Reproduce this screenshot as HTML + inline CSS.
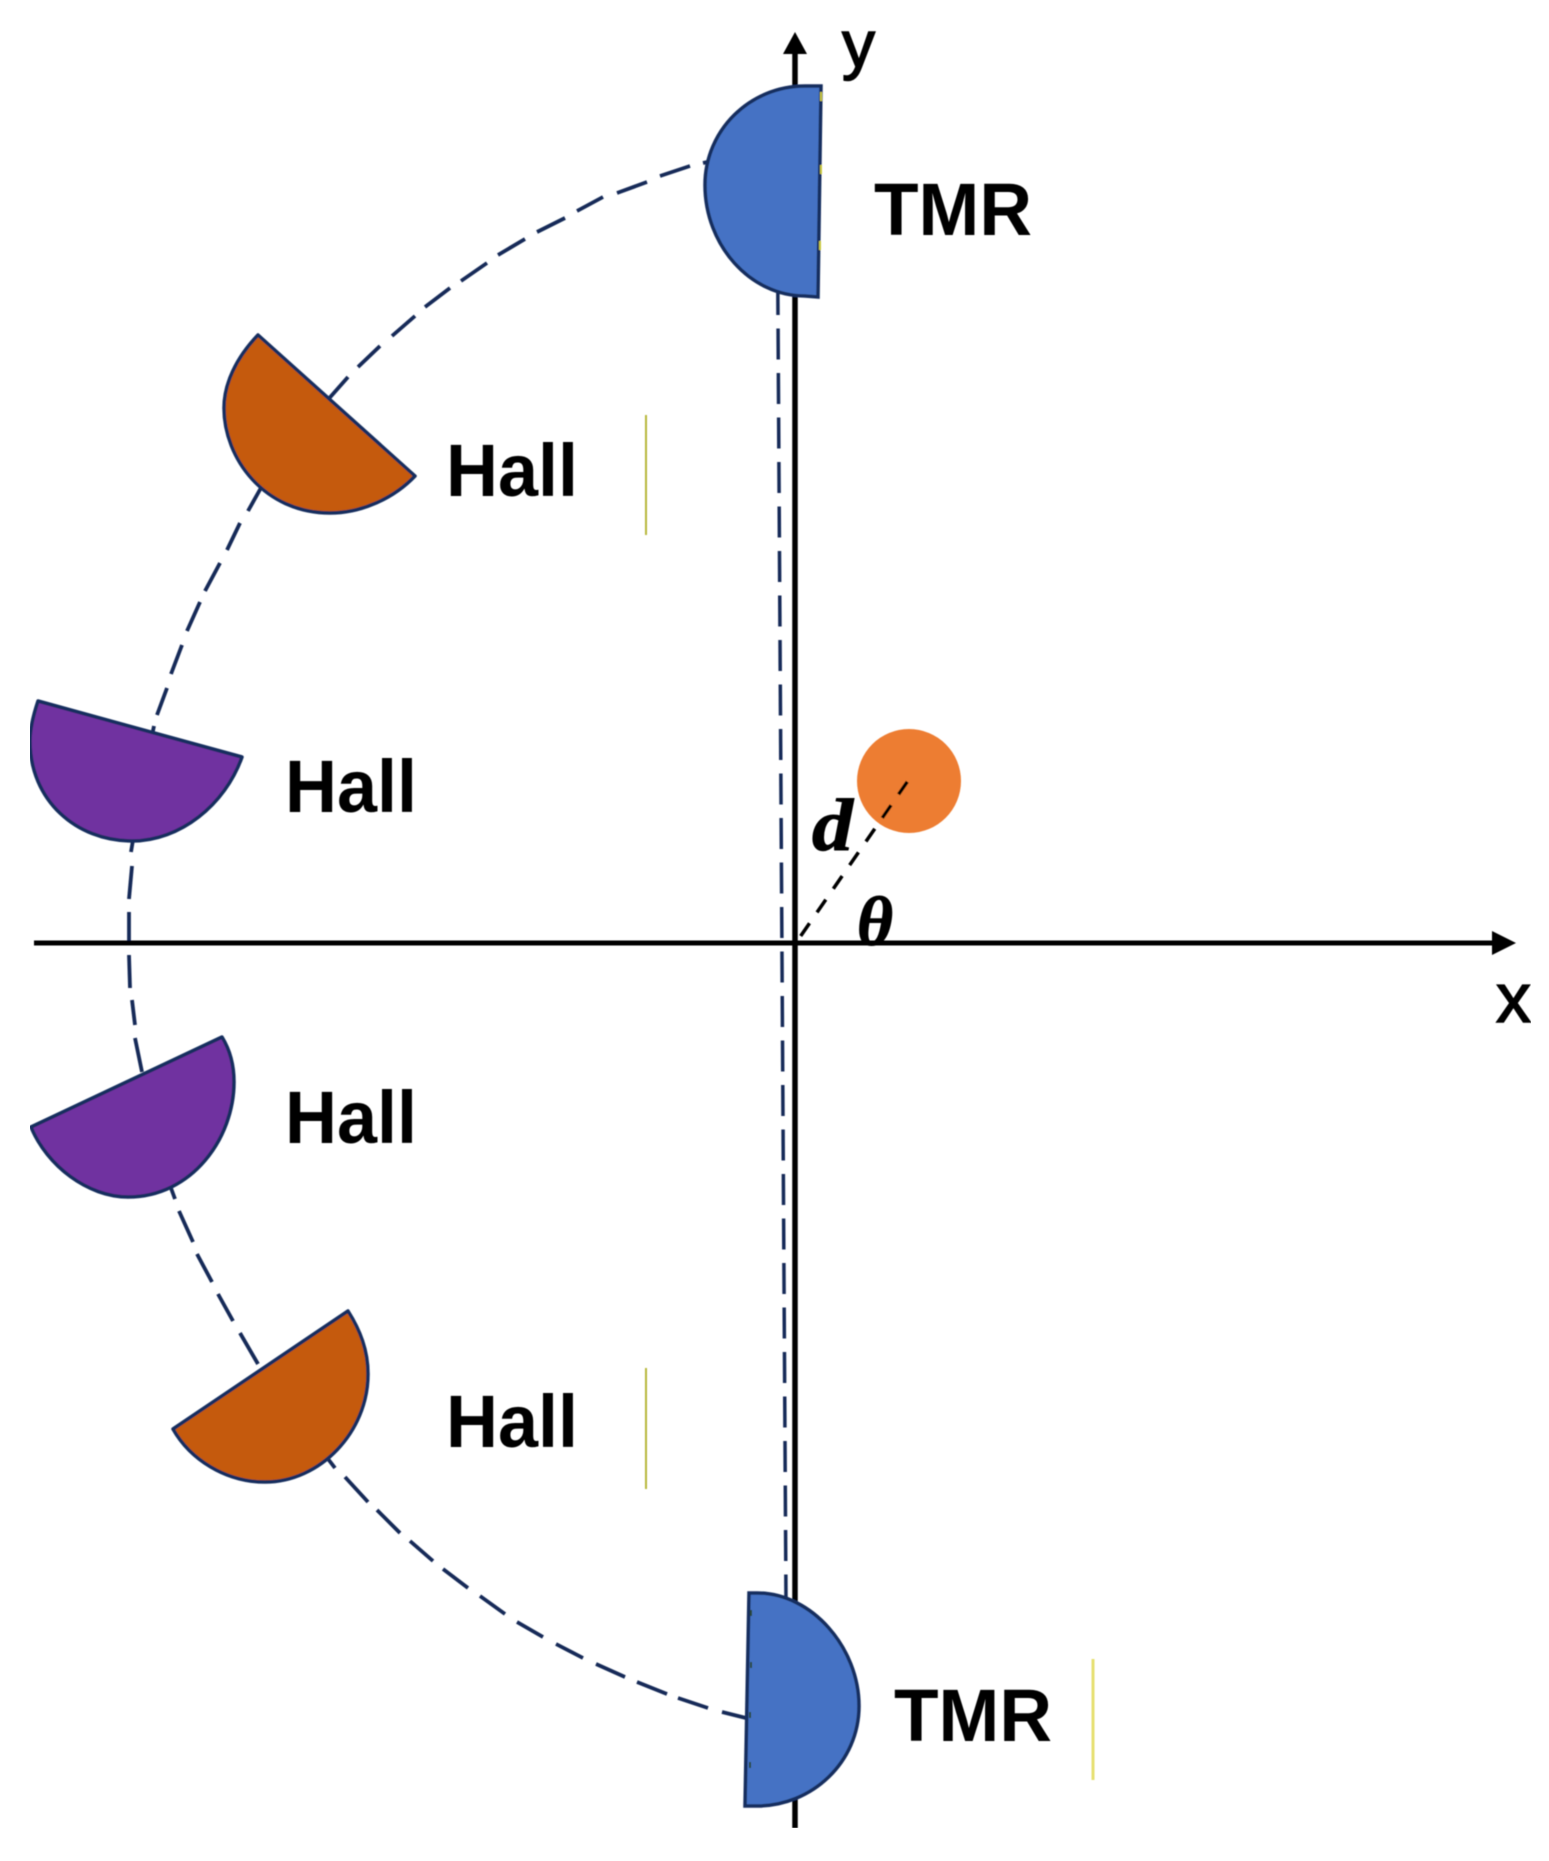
<!DOCTYPE html>
<html>
<head>
<meta charset="utf-8">
<style>
html,body{margin:0;padding:0;background:#fff;}
svg{display:block;}
text{fill:#000;}
.s{font-family:"Liberation Sans",sans-serif;font-weight:700;font-size:74px;}
.m{font-family:"Liberation Serif",serif;font-weight:700;font-style:italic;stroke:#000;stroke-width:1;}
</style>
</head>
<body>
<svg width="1549" height="1861" viewBox="0 0 1549 1861" xmlns="http://www.w3.org/2000/svg">
<defs><filter id="b" x="0" y="0" width="100%" height="100%"><feGaussianBlur stdDeviation="0.6"/></filter></defs>
<rect width="1549" height="1861" fill="#ffffff"/>
<g filter="url(#b)">

<path fill="none" stroke="#172c58" stroke-width="3.8" d="
M712 161 L703 163
M690 166 L660 176
M647 182 L617 193
M603 197 L577 211
M565 218 L537 232
M525 239 L498 255
M487 263 L461 281
M450 288 L425 307
M415 316 L392 336
M380 346 L358 367
M348 377 L325 403
M262 486 L248 511
M240 523 L227 550
M220 563 L205 591
M200 602 L187 631
M182 645 L171 674
M167 688 L157 715
M154 726 L151 740
M133 840 L131 852
M132 866 L129 899
M129 912 L129 945
M129 955 L130 988
M132 1000 L135 1025
M135 1038 L142 1072
M168 1180 L175 1199
M179 1211 L193 1242
M197 1254 L212 1282
M218 1294 L233 1321
M240 1333 L258 1364
M325 1455 L335 1468
M345 1477 L368 1502
M377 1510 L400 1533
M410 1541 L433 1561
M443 1569 L468 1588
M480 1596 L505 1614
M517 1622 L543 1637
M556 1644 L583 1658
M596 1664 L625 1677
M637 1682 L667 1694
M678 1698 L708 1708
M722 1712 L750 1719"/>
<path d="M777.8 284 L786 1600" fill="none" stroke="#172c58" stroke-width="3.5" stroke-dasharray="31 13.5"/>

<line x1="795" y1="50" x2="795" y2="1828" stroke="#000" stroke-width="5.5"/>
<polygon points="795,32 783,54 807,54" fill="#000"/>
<line x1="34" y1="943" x2="1495" y2="943" stroke="#000" stroke-width="5"/>
<polygon points="1516,943 1492,931 1492,955" fill="#000"/>

<circle cx="909" cy="781" r="52" fill="#ed7d31"/>
<line x1="800.7" y1="936" x2="907.3" y2="781.7" stroke="#000" stroke-width="3.5" stroke-dasharray="15.5 13.2"/>

<path d="M821 86 L805 86 C750 86 705 130 705 185 C705 245 750 296 805 296 L818 297 Z" fill="#4472c4" stroke="#172f5e" stroke-width="3.5"/>
<path d="M749 1593 L757 1593 C812 1593 859 1648 859 1706 C859 1762 812 1806 757 1806 L745 1806 Z" fill="#4472c4" stroke="#172f5e" stroke-width="3.5"/>

<path d="M258 335 C236 358 224 384 224 408 C224 458 264 513 330 513 C362 513 394 498 415 476 Z" fill="#c55a11" stroke="#172f5e" stroke-width="3.5" stroke-linejoin="round"/>
<path d="M38 701 C33 716 30 729 30 741 C30 800 76 841 132 841 C180 841 225 805 242 757 Z" fill="#7030a0" stroke="#172f5e" stroke-width="3.5" stroke-linejoin="round"/>
<path d="M222 1037 C230 1050 234 1065 234 1082 C234 1138 192 1197 128 1197 C88 1197 47 1166 31 1127 Z" fill="#7030a0" stroke="#172f5e" stroke-width="3.5" stroke-linejoin="round"/>
<path d="M348 1311 C360 1330 368 1350 368 1374 C368 1432 320 1482 265 1482 C225 1482 190 1459 173 1429 Z" fill="#c55a11" stroke="#172f5e" stroke-width="3.5" stroke-linejoin="round"/>

<g fill="#c8c83c">
<rect x="820" y="92" width="2" height="9"/>
<rect x="820" y="165" width="2" height="9"/>
<rect x="819" y="241" width="2" height="9"/>
</g>
<g fill="#2a4a30">
<rect x="750" y="1610" width="2" height="6"/>
<rect x="750" y="1662" width="2" height="6"/>
<rect x="749" y="1712" width="2" height="6"/>
<rect x="749" y="1762" width="2" height="6"/>
</g>

<line x1="646" y1="415" x2="646" y2="535" stroke="#b8b83a" stroke-width="2"/>
<line x1="646" y1="1368" x2="646" y2="1489" stroke="#b8b83a" stroke-width="2"/>
<line x1="1093" y1="1659" x2="1093" y2="1780" stroke="#e6e070" stroke-width="3"/>

<text class="s" x="874" y="235" textLength="158" lengthAdjust="spacingAndGlyphs">TMR</text>
<text class="s" x="894" y="1741" textLength="158" lengthAdjust="spacingAndGlyphs">TMR</text>
<text class="s" x="446" y="496" textLength="132" lengthAdjust="spacingAndGlyphs">Hall</text>
<text class="s" x="285" y="812" textLength="132" lengthAdjust="spacingAndGlyphs">Hall</text>
<text class="s" x="285" y="1143" textLength="132" lengthAdjust="spacingAndGlyphs">Hall</text>
<text class="s" x="446" y="1447" textLength="132" lengthAdjust="spacingAndGlyphs">Hall</text>
<text x="842" y="67" font-family="Liberation Sans, sans-serif" font-size="66" stroke="#000" stroke-width="1.5">y</text>
<text x="1496" y="1022" font-family="Liberation Sans, sans-serif" font-size="70" stroke="#000" stroke-width="1.5">x</text>
<text class="m" x="812" y="850" font-size="74" textLength="41" lengthAdjust="spacingAndGlyphs">d</text>
<text class="m" x="857" y="945" font-size="70" textLength="36" lengthAdjust="spacingAndGlyphs">θ</text>
</g>
</svg>
</body>
</html>
